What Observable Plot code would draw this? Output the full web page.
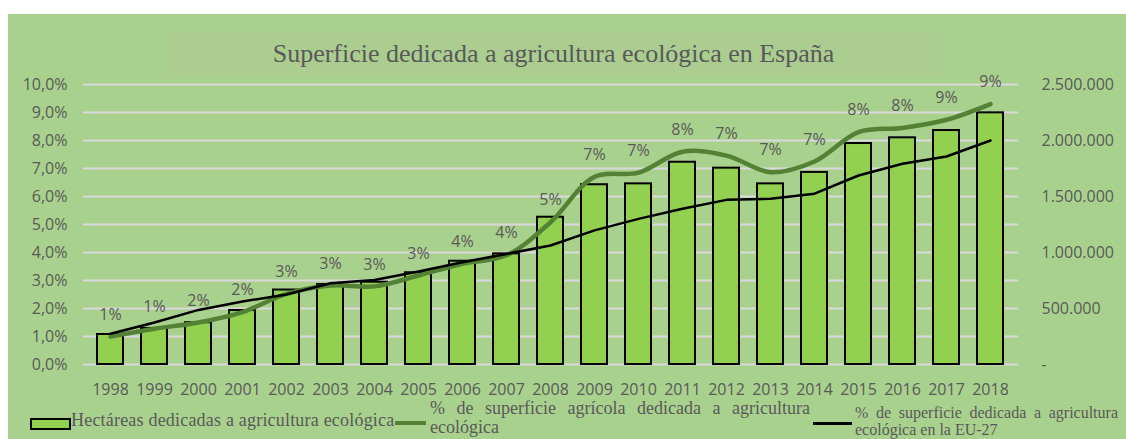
<!DOCTYPE html>
<html>
<head>
<meta charset="utf-8">
<script src="https://cdn.jsdelivr.net/npm/d3@7"></script>
<script src="https://cdn.jsdelivr.net/npm/@observablehq/plot@0.6"></script>
<style>
  html, body { margin: 0; padding: 0; background: #ffffff; overflow: hidden; }
  #wrap { position: relative; width: 1126px; height: 439px; overflow: hidden; }
  #panel { position: absolute; left: 8px; top: 14px; width: 1118px; height: 425px; background: #a9d18e; }
  #titlebox { position: absolute; left: 165px; top: 31px; width: 777px; height: 46px; background: #abcd90; }
  #title { position: absolute; left: 165px; top: 31px; width: 777px; text-align: center;
           font-family: "Liberation Serif", serif; font-size: 26px; color: #595959; line-height: 46px; }
  #chart { position: absolute; left: 0; top: 0; }
  .lg { position: absolute; font-family: "Liberation Serif", serif; color: #595959; }
  .sw { position: absolute; }
</style>
</head>
<body>
<div id="wrap">
  <div id="panel"></div>
  <div id="titlebox"></div>
  <div id="title"></div>
  <div id="chart"></div>
  <div class="sw" style="left:30px;top:418px;width:37px;height:8px;background:#92d050;border:2px solid #000;"></div>
  <div class="lg" id="lg1" style="left:71px;top:411px;font-size:18px;line-height:19px;letter-spacing:0.2px;white-space:nowrap;"></div>
  <div class="sw" style="left:395px;top:421px;width:31px;height:4px;background:#548235;"></div>
  <div class="lg" id="lg2" style="left:430px;top:399px;width:380px;font-size:18px;line-height:19px;text-align:justify;"></div>
  <div class="sw" style="left:813px;top:422px;width:39px;height:3px;background:#000;"></div>
  <div class="lg" id="lg3" style="left:855px;top:404px;width:263px;font-size:16px;line-height:17px;text-align:justify;"></div>
</div>
<script>
const titleText = "Superficie dedicada a agricultura ecológica en España";
const seriesNames = [
  "Hectáreas dedicadas a agricultura ecológica",
  "% de superficie agrícola dedicada a agricultura ecológica",
  "% de superficie dedicada a agricultura ecológica en la EU-27"
];
const years = ["1998","1999","2000","2001","2002","2003","2004","2005","2006","2007","2008",
               "2009","2010","2011","2012","2013","2014","2015","2016","2017","2018"];
const hectares = [268000, 322000, 373000, 482000, 665000, 714000, 735000, 819000, 922000, 988000, 1315000,
                  1605000, 1613000, 1806000, 1753000, 1613000, 1715000, 1973000, 2024000, 2089000, 2247000];
const pctSpain = [1.0, 1.28, 1.5, 1.87, 2.52, 2.82, 2.79, 3.18, 3.6, 3.9, 5.08,
                  6.7, 6.85, 7.6, 7.46, 6.87, 7.25, 8.3, 8.45, 8.74, 9.3];
const pctEU = [1.1, 1.5, 1.95, 2.25, 2.5, 2.9, 3.02, 3.32, 3.65, 3.95, 4.25,
               4.79, 5.2, 5.56, 5.88, 5.92, 6.1, 6.75, 7.17, 7.43, 8.0];
const pctLabels = ["1%","1%","2%","2%","3%","3%","3%","3%","4%","4%","5%",
                   "7%","7%","8%","7%","7%","7%","8%","8%","9%","9%"];
const leftTicks = [0,1,2,3,4,5,6,7,8,9,10];
const leftTickLabels = ["0,0%","1,0%","2,0%","3,0%","4,0%","5,0%","6,0%","7,0%","8,0%","9,0%","10,0%"];
const rightTicks = [0, 500000, 1000000, 1500000, 2000000, 2500000];
const rightTickLabels = ["-","500.000","1.000.000","1.500.000","2.000.000","2.500.000"];
const hectaresPerPct = 250000; // right axis 2.500.000 aligns with 10,0%

document.getElementById("title").textContent = titleText;
document.getElementById("lg1").textContent = seriesNames[0];
document.getElementById("lg2").textContent = seriesNames[1];
document.getElementById("lg3").textContent = seriesNames[2];

const rows = years.map((y, i) => ({
  year: y, ha: hectares[i], es: pctSpain[i], eu: pctEU[i], label: pctLabels[i]
}));

const chart = Plot.plot({
  width: 1126,
  height: 400,
  marginLeft: 83,
  marginRight: 108,
  marginTop: 84,
  marginBottom: 36,
  style: { background: "transparent", fontFamily: "'Open Sans', sans-serif", fontSize: "16px", color: "#595959", overflow: "visible" },
  x: { type: "band", domain: years, paddingInner: 0.4, paddingOuter: 0.2 },
  y: { domain: [0, 10] },
  marks: [
    Plot.ruleY(leftTicks, { stroke: "#d9d9d9", strokeWidth: 2 }),
    Plot.barY(rows, { x: "year", y: d => d.ha / hectaresPerPct, fill: "#92d050", stroke: "#000", strokeWidth: 2 }),
    Plot.line(rows, { x: "year", y: "es", stroke: "#548235", strokeWidth: 4.5, curve: "catmull-rom" }),
    Plot.line(rows, { x: "year", y: "eu", stroke: "#000", strokeWidth: 2.5 }),
    Plot.text(rows, { x: "year", y: "es", text: "label", dy: -22, fill: "#595959", fontSize: 16 }),
    Plot.axisX({ tickSize: 0, tickPadding: 19, label: null, fill: "#595959", fontSize: 16 }),
    Plot.axisY({ ticks: leftTicks, tickFormat: d => leftTickLabels[leftTicks.indexOf(d)], tickSize: 0, tickPadding: 16, label: null, fill: "#595959", fontSize: 16 }),
    Plot.axisY({ anchor: "right", ticks: rightTicks.map(v => v / hectaresPerPct),
                 tickFormat: (d, i) => rightTickLabels[i], tickSize: 0, tickPadding: 23,
                 label: null, fill: "#595959", fontSize: 16 })
  ]
});
document.getElementById("chart").appendChild(chart);
</script>
</body>
</html>
